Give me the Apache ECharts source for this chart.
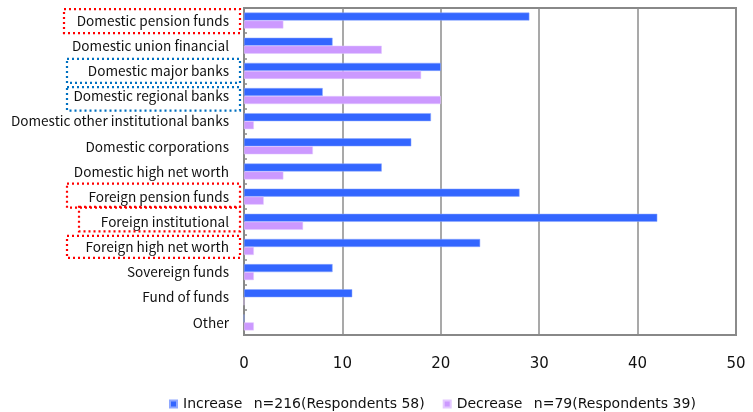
<!DOCTYPE html>
<html>
<head>
<meta charset="utf-8">
<script src="https://cdn.jsdelivr.net/npm/echarts@6/dist/echarts.min.js"></script>
<style>
  html, body { margin: 0; padding: 0; background: #fff; }
  #chart { width: 753px; height: 412px; }
</style>
</head>
<body>
<div id="chart"></div>
<script>
// Investor categories, listed top to bottom
const categories = [
  'Domestic pension funds',
  'Domestic union financial',
  'Domestic major banks',
  'Domestic regional banks',
  'Domestic other institutional banks',
  'Domestic corporations',
  'Domestic high net worth',
  'Foreign pension funds',
  'Foreign institutional',
  'Foreign high net worth',
  'Sovereign funds',
  'Fund of funds',
  'Other'
];

// Number of answers per category
const increaseValues = [29, 9, 20, 8, 19, 17, 14, 28, 42, 24, 9, 11, 0];
const decreaseValues = [4, 14, 18, 20, 1, 7, 4, 2, 6, 1, 1, 0, 1];

const increaseName = 'Increase\u2002 n=216(Respondents 58)';
const decreaseName = 'Decrease\u2002 n=79(Respondents 39)';

const xTicks = [0, 10, 20, 30, 40, 50];

// Highlighted categories: dotted frames around their labels
const highlights = [
  { name: 'Domestic pension funds', color: '#ff0000' },
  { name: 'Domestic major banks', color: '#0070c0' },
  { name: 'Domestic regional banks', color: '#0070c0' },
  { name: 'Foreign pension funds', color: '#ff0000' },
  { name: 'Foreign institutional', color: '#ff0000' },
  { name: 'Foreign high net worth', color: '#ff0000' }
];

const LABEL_FONT = '"Noto Sans CJK JP", "Noto Sans", sans-serif';
const WIDE_FONT = '"DejaVu Sans", sans-serif';

const chart = echarts.init(document.getElementById('chart'), null, { renderer: 'canvas' });

// y axis runs bottom-to-top, so reverse the category order
const cats = categories.slice().reverse();
const inc = increaseValues.slice().reverse();
const dec = decreaseValues.slice().reverse();

const option = {
  animation: false,
  backgroundColor: '#ffffff',
  grid: {
    left: 244, right: 17, top: 8, bottom: 77,
    show: true, borderColor: '#888888', borderWidth: 2
  },
  legend: {
    top: 392,
    left: 164,
    icon: 'rect',
    itemWidth: 7,
    itemHeight: 7,
    itemGap: 18,
    textStyle: { fontFamily: WIDE_FONT, fontSize: 14, color: '#111111', padding: [0, 0, 0, 1] },
    data: [increaseName, decreaseName]
  },
  xAxis: {
    type: 'value',
    min: xTicks[0],
    max: xTicks[xTicks.length - 1],
    interval: 10,
    axisLine: { show: true, lineStyle: { color: '#888888', width: 2 } },
    axisTick: { show: false },
    axisLabel: { margin: 22, fontFamily: WIDE_FONT, fontSize: 15, color: '#111111' },
    splitLine: { show: true, lineStyle: { color: '#8c8c8c', width: 1.5 } }
  },
  yAxis: {
    type: 'category',
    data: cats,
    axisLine: { show: true, lineStyle: { color: '#888888', width: 2 } },
    axisTick: { show: true, inside: true, length: 3, lineStyle: { color: '#888888', width: 1.5 } },
    axisLabel: { margin: 15, fontFamily: LABEL_FONT, fontSize: 13.6, color: '#111111', interval: 0 },
    splitLine: { show: false }
  },
  series: [
    {
      name: increaseName,
      type: 'bar',
      data: inc,
      barWidth: 8,
      barGap: '0%',
      itemStyle: { color: '#3366ff', borderColor: '#8fa8ff', borderWidth: 0.5 },
      z: 3
    },
    {
      name: decreaseName,
      type: 'bar',
      data: dec,
      barWidth: 8,
      barGap: '0%',
      itemStyle: { color: '#cc99ff', borderColor: '#e3c8ff', borderWidth: 0.5 },
      z: 3
    }
  ]
};

chart.setOption(option);

// Dotted frames around selected category labels, placed from the axis scale
function drawFrames() {
  const frameLeft = {
    'Domestic pension funds': 64,
    'Domestic major banks': 67,
    'Domestic regional banks': 67,
    'Foreign pension funds': 67,
    'Foreign institutional': 79,
    'Foreign high net worth': 67
  };
  const frameOffset = {
    'Domestic pension funds': [-11.5, 12.5],
    'Domestic major banks': [-12, 12],
    'Domestic regional banks': [-9, 14.5],
    'Foreign pension funds': [-13, 11],
    'Foreign institutional': [-15, 9.5],
    'Foreign high net worth': [-11, 11]
  };
  const right = 240;
  const elements = highlights.map(function (h) {
    const cy = chart.convertToPixel({ yAxisIndex: 0 }, h.name);
    const off = frameOffset[h.name];
    const x0 = frameLeft[h.name];
    return {
      type: 'rect',
      silent: true,
      shape: { x: x0, y: cy + off[0], width: right - x0, height: off[1] - off[0] },
      style: { fill: 'none', stroke: h.color, lineWidth: 2.2, lineDash: [2, 3] },
      z: 10
    };
  });
  chart.setOption({ graphic: elements });
}
drawFrames();
</script>
</body>
</html>
